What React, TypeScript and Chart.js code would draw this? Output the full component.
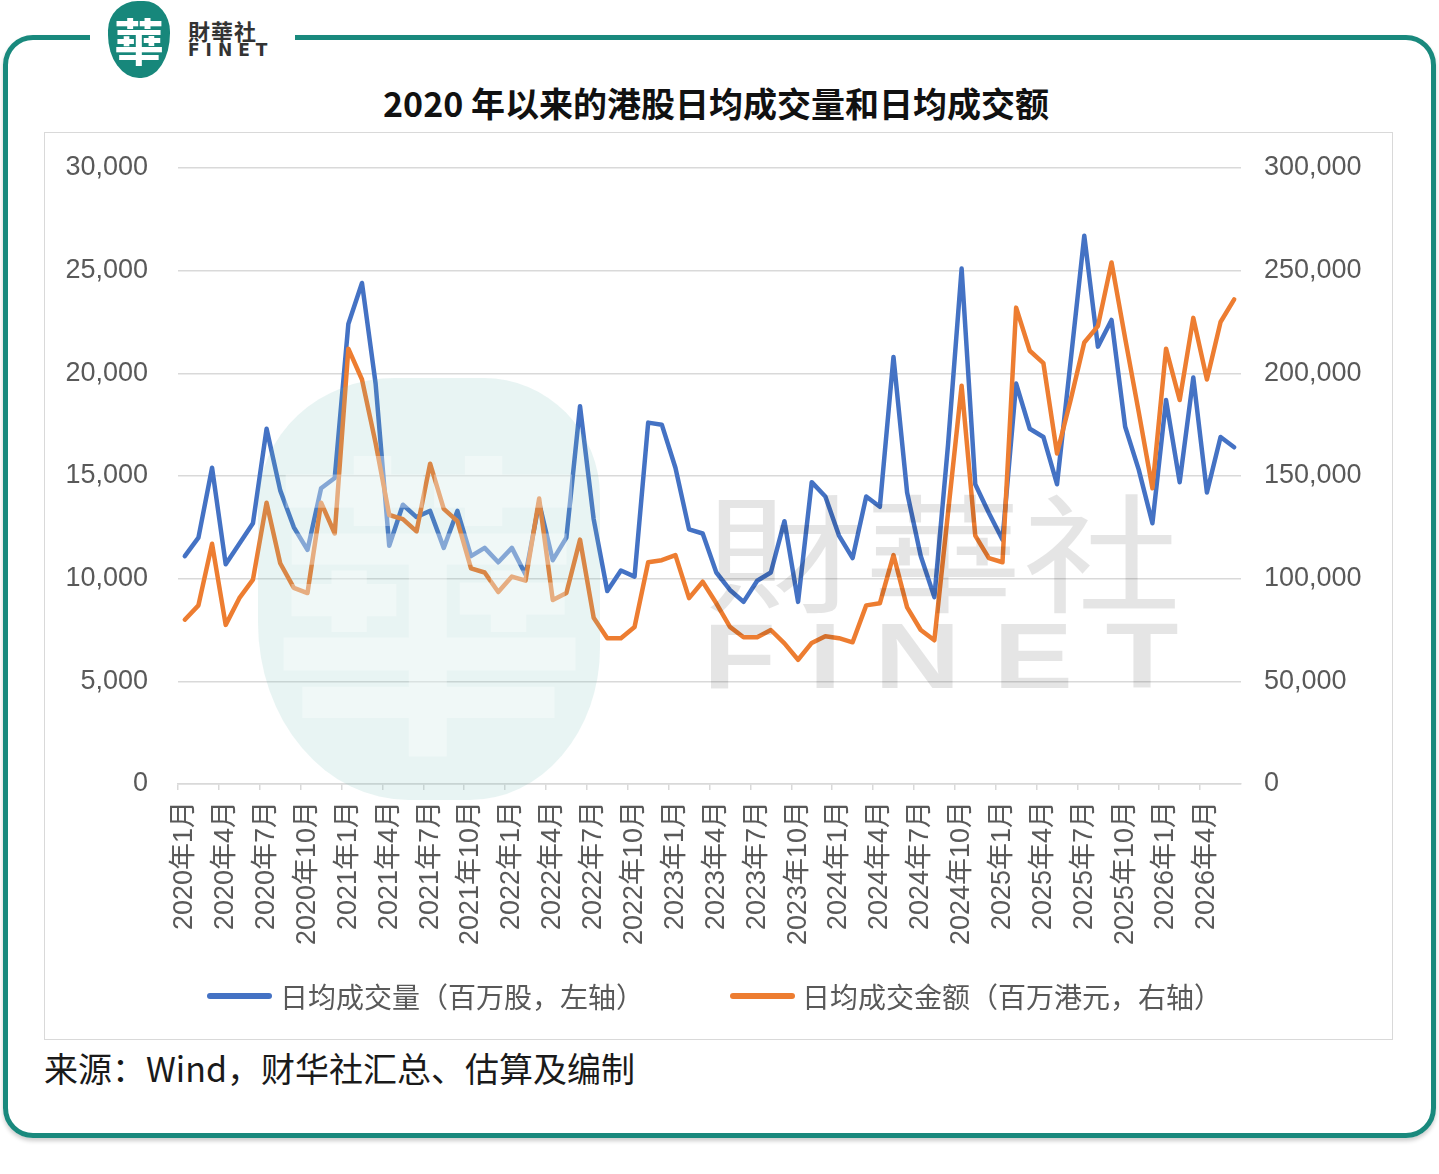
import React, { useEffect, useRef } from 'react';
import { Chart, registerables } from 'chart.js';

Chart.register(...registerables);

// 月份（2020年1月 - 2026年6月）
const months: string[] = [
  '2020年1月', '2020年2月', '2020年3月', '2020年4月', '2020年5月', '2020年6月',
  '2020年7月', '2020年8月', '2020年9月', '2020年10月', '2020年11月', '2020年12月',
  '2021年1月', '2021年2月', '2021年3月', '2021年4月', '2021年5月', '2021年6月',
  '2021年7月', '2021年8月', '2021年9月', '2021年10月', '2021年11月', '2021年12月',
  '2022年1月', '2022年2月', '2022年3月', '2022年4月', '2022年5月', '2022年6月',
  '2022年7月', '2022年8月', '2022年9月', '2022年10月', '2022年11月', '2022年12月',
  '2023年1月', '2023年2月', '2023年3月', '2023年4月', '2023年5月', '2023年6月',
  '2023年7月', '2023年8月', '2023年9月', '2023年10月', '2023年11月', '2023年12月',
  '2024年1月', '2024年2月', '2024年3月', '2024年4月', '2024年5月', '2024年6月',
  '2024年7月', '2024年8月', '2024年9月', '2024年10月', '2024年11月', '2024年12月',
  '2025年1月', '2025年2月', '2025年3月', '2025年4月', '2025年5月', '2025年6月',
  '2025年7月', '2025年8月', '2025年9月', '2025年10月', '2025年11月', '2025年12月',
  '2026年1月', '2026年2月', '2026年3月', '2026年4月', '2026年5月', '2026年6月',
];

// 日均成交量（百万股，左轴）
const volume: number[] = [
  11100, 12000, 15400, 10700, 11700, 12700, 17300, 14300, 12500, 11400, 14400, 14900,
  22400, 24400, 19500, 11600, 13600, 13000, 13300, 11500, 13300, 11100, 11500, 10800,
  11500, 10200, 13700, 10900, 12000, 18400, 12900, 9400, 10400, 10100, 17600, 17500,
  15400, 12400, 12200, 10300, 9450, 8870, 9900, 10300, 12800, 8870, 14700, 14000,
  12100, 11000, 14000, 13500, 20800, 14200, 11100, 9100, 16500, 25100, 14600, 13200,
  11900, 19500, 17300, 16900, 14600, 20600, 26700, 21300, 22600, 17400, 15300, 12700,
  18700, 14700, 19800, 14200, 16900, 16400,
];

// 日均成交金额（百万港元，右轴）
const turnover: number[] = [
  80000, 87000, 117000, 77500, 90500, 99500, 137000, 107500, 95500, 93000, 137000, 122000,
  212000, 197000, 166000, 131000, 129000, 123000, 156000, 134000, 128000, 105000, 103000, 93500,
  101000, 99000, 139000, 89600, 93000, 119000, 81000, 71000, 71000, 76500, 108000, 109000,
  111500, 90500, 98500, 88000, 76500, 71500, 71500, 75000, 68500, 60500, 68700, 72000,
  71000, 69000, 87000, 88000, 111500, 86000, 75000, 70000, 132000, 194000, 121000, 110000,
  108000, 232000, 211000, 205000, 161000, 187000, 215000, 223000, 254000, 217000, 181000, 144000,
  212000, 187000, 227000, 197000, 225000, 236000,
];

const seriesNames: string[] = ['日均成交量（百万股，左轴）', '日均成交金额（百万港元，右轴）'];
const seriesColors: string[] = ['#4472C4', '#ED7D31'];

const FONT = "'Liberation Sans', 'Noto Sans CJK SC', sans-serif";
const CJK = "'Noto Sans CJK SC', 'Liberation Sans', sans-serif";

const TurnoverChart: React.FC = () => {
  const chartRef = useRef<HTMLCanvasElement>(null);
  const chartInstance = useRef<Chart | null>(null);

  useEffect(() => {
    if (!chartRef.current) return;
    if (chartInstance.current) chartInstance.current.destroy();

    const ctx = chartRef.current.getContext('2d');
    if (!ctx) return;

    chartInstance.current = new Chart(ctx, {
      type: 'line',
      data: {
        labels: months,
        datasets: [
          {
            label: seriesNames[0],
            data: volume,
            yAxisID: 'y',
            borderColor: seriesColors[0],
            backgroundColor: seriesColors[0],
            borderWidth: 4.5,
            pointRadius: 0,
            borderJoinStyle: 'round',
            borderCapStyle: 'round',
            order: 1,
          },
          {
            label: seriesNames[1],
            data: turnover,
            yAxisID: 'y1',
            borderColor: seriesColors[1],
            backgroundColor: seriesColors[1],
            borderWidth: 4.5,
            pointRadius: 0,
            borderJoinStyle: 'round',
            borderCapStyle: 'round',
            order: 0,
          },
        ],
      },
      options: {
        responsive: true,
        maintainAspectRatio: false,
        animation: false,
        layout: { padding: { top: 35, left: 0, right: 0, bottom: 0 } },
        plugins: {
          legend: { display: false },
          tooltip: { enabled: false },
        },
        scales: {
          x: {
            offset: true,
            border: { display: true, color: '#d9d9d9', width: 1.5 },
            grid: {
              offset: true,
              drawOnChartArea: false,
              drawTicks: true,
              tickLength: 6,
              lineWidth: 1.5,
              color: (c) => (c.index % 3 === 0 ? '#d9d9d9' : 'rgba(0,0,0,0)'),
            },
            ticks: {
              autoSkip: false,
              minRotation: 90,
              maxRotation: 90,
              padding: 11,
              color: '#595959',
              font: { family: FONT, size: 27 },
              callback: (_v, i) => (i % 3 === 0 ? months[i] : ''),
            },
            afterFit: (scale) => {
              scale.height = 255;
            },
          },
          y: {
            position: 'left',
            min: 0,
            max: 30000,
            border: { display: false },
            // invisible tick marks give the gap between labels and plot
            grid: {
              color: '#d9d9d9',
              lineWidth: 1.5,
              drawTicks: true,
              tickLength: 30,
              tickColor: 'rgba(0,0,0,0)',
            },
            ticks: {
              stepSize: 5000,
              padding: 0,
              color: '#595959',
              font: { family: FONT, size: 27 },
            },
            afterFit: (scale) => {
              scale.width = 133;
            },
          },
          y1: {
            position: 'right',
            min: 0,
            max: 300000,
            border: { display: false },
            grid: {
              drawOnChartArea: false,
              drawTicks: true,
              tickLength: 23,
              tickColor: 'rgba(0,0,0,0)',
            },
            ticks: {
              stepSize: 50000,
              padding: 0,
              color: '#595959',
              font: { family: FONT, size: 27 },
            },
            afterFit: (scale) => {
              scale.width = 151;
            },
          },
        },
      },
    });

    return () => {
      if (chartInstance.current) {
        chartInstance.current.destroy();
        chartInstance.current = null;
      }
    };
  }, []);

  return <canvas ref={chartRef} />;
};

const abs = (style: React.CSSProperties): React.CSSProperties => ({ position: 'absolute', ...style });

const App: React.FC = () => {
  const legendItems = [
    { name: seriesNames[0], color: seriesColors[0], lineLeft: 207, textLeft: 280 },
    { name: seriesNames[1], color: seriesColors[1], lineLeft: 730, textLeft: 802 },
  ];

  return (
    <div style={abs({ left: 0, top: 0, width: 1439, height: 1174, background: '#fff', overflow: 'hidden' })}>
      {/* outer frame */}
      <div
        style={abs({
          left: 3,
          top: 35,
          width: 1433,
          height: 1103,
          border: '5px solid #19897d',
          borderRadius: 30,
          boxSizing: 'border-box',
          boxShadow: '0 3px 4px rgba(0,0,0,0.2)',
        })}
      />
      <div style={abs({ left: 90, top: 26, width: 205, height: 20, background: '#fff' })} />

      {/* logo */}
      <div
        style={abs({
          left: 108,
          top: 1,
          width: 62,
          height: 77,
          background: '#17877b',
          borderRadius: '48% 42% 46% 50% / 38% 40% 58% 56%',
          color: '#fff',
          fontFamily: "'Noto Sans CJK TC', sans-serif",
          fontSize: 50,
          fontWeight: 700,
          lineHeight: '77px',
          textAlign: 'center',
        })}
      >
        華
      </div>
      <div
        style={abs({
          left: 188,
          top: 18,
          fontFamily: "'Noto Sans CJK TC', sans-serif",
          fontSize: 22,
          fontWeight: 700,
          lineHeight: '24px',
          color: '#333',
          letterSpacing: 1,
        })}
      >
        財華社
      </div>
      <div
        style={abs({
          left: 188,
          top: 42,
          fontFamily: "'DejaVu Sans', sans-serif",
          fontSize: 17,
          fontWeight: 700,
          lineHeight: '17px',
          color: '#333',
          letterSpacing: 6,
        })}
      >
        FINET
      </div>

      {/* title */}
      <div
        style={abs({
          left: 0,
          top: 85,
          width: 1432,
          textAlign: 'center',
          fontFamily: CJK,
          fontSize: 34,
          fontWeight: 700,
          lineHeight: '36px',
          color: '#111',
        })}
      >
        2020 年以来的港股日均成交量和日均成交额
      </div>

      {/* chart box */}
      <div
        style={abs({
          left: 44,
          top: 132,
          width: 1349,
          height: 908,
          border: '1px solid #d9d9d9',
          boxSizing: 'border-box',
        })}
      >
        <div style={abs({ left: 0, top: 0, width: 1347, height: 906 })}>
          <TurnoverChart />
        </div>
      </div>

      {/* watermarks */}
      <div
        style={abs({
          left: 258,
          top: 378,
          width: 342,
          height: 422,
          background: 'rgba(110,185,180,0.16)',
          borderRadius: '40% 34% 38% 44% / 30% 28% 36% 42%',
          color: 'rgba(255,255,255,0.32)',
          fontFamily: "'Noto Sans CJK TC', sans-serif",
          fontSize: 320,
          fontWeight: 700,
          lineHeight: '422px',
          textAlign: 'center',
          pointerEvents: 'none',
        })}
      >
        華
      </div>
      <div
        style={abs({
          left: 705,
          top: 478,
          width: 380,
          fontFamily: "'Noto Sans CJK TC', sans-serif",
          fontSize: 128,
          fontWeight: 400,
          lineHeight: '140px',
          color: 'rgba(0,0,0,0.1)',
          whiteSpace: 'nowrap',
          transform: 'scaleX(1.24)',
          transformOrigin: 'left top',
          pointerEvents: 'none',
        })}
      >
        財華社
      </div>
      <div
        style={abs({
          left: 703,
          top: 610,
          fontFamily: "'Liberation Sans', sans-serif",
          fontSize: 92,
          fontWeight: 700,
          lineHeight: '92px',
          letterSpacing: 25,
          color: 'rgba(0,0,0,0.1)',
          whiteSpace: 'nowrap',
          transform: 'scaleX(1.3)',
          transformOrigin: 'left top',
          pointerEvents: 'none',
        })}
      >
        FINET
      </div>

      {/* legend */}
      {legendItems.map((item) => (
        <React.Fragment key={item.name}>
          <div
            style={abs({
              left: item.lineLeft,
              top: 993,
              width: 65,
              height: 6,
              borderRadius: 3,
              background: item.color,
            })}
          />
          <div
            style={abs({
              left: item.textLeft,
              top: 980,
              fontFamily: CJK,
              fontSize: 28,
              lineHeight: '32px',
              color: '#595959',
              whiteSpace: 'nowrap',
            })}
          >
            {item.name}
          </div>
        </React.Fragment>
      ))}

      {/* source */}
      <div
        style={abs({
          left: 44,
          top: 1049,
          fontFamily: CJK,
          fontSize: 34,
          lineHeight: '38px',
          color: '#1a1a1a',
          whiteSpace: 'nowrap',
        })}
      >
        来源：Wind，财华社汇总、估算及编制
      </div>
    </div>
  );
};

export default App;
